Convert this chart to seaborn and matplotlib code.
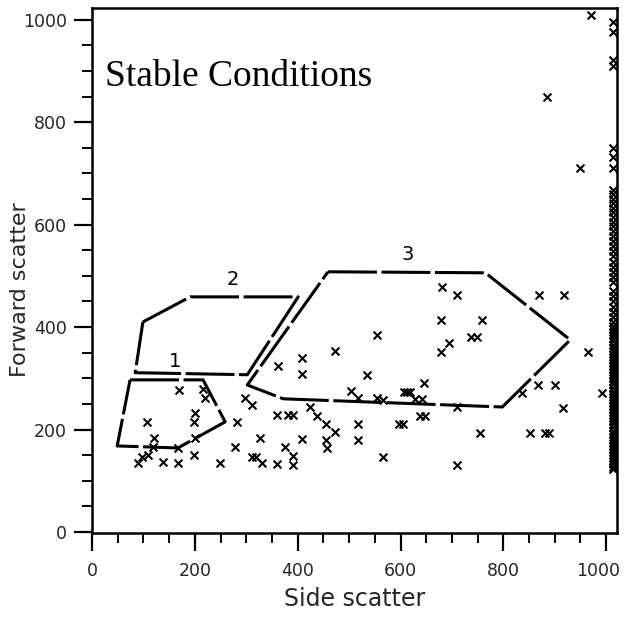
import numpy as np
import pandas as pd
import matplotlib
matplotlib.use("Agg")
import matplotlib.pyplot as plt
import matplotlib.transforms as mtransforms
import seaborn as sns

# --- data (side scatter, forward scatter) ---
side_scatter = [169, 216, 220, 200, 198, 107, 121, 119, 109, 97, 89, 138, 167, 167,
                200, 198, 249, 282, 278, 298, 311, 327, 311, 319, 331,
                554, 473, 409, 362, 409, 535, 504, 613, 518, 554, 566, 360, 381, 391,
                424, 438, 455, 473, 518, 597, 605, 409, 455, 457, 518, 360, 375, 391,
                391, 566,
                681, 710, 870, 918, 679, 759, 737, 749, 695, 679, 965, 646, 607, 619,
                628, 642, 710, 638, 648, 755, 837, 868, 901, 916, 852, 881, 889, 710,
                885, 949, 992, 971]
forward_scatter = [277, 279, 262, 232, 215, 215, 184, 166, 150, 146, 135, 137, 135, 164,
                   184, 150, 135, 215, 166, 262, 248, 184, 146, 146, 135,
                   385, 354, 340, 324, 309, 307, 275, 273, 262, 262, 258, 229, 229, 229,
                   244, 227, 211, 195, 211, 211, 211, 182, 180, 164, 180, 133, 166, 148,
                   131, 146,
                   479, 463, 463, 463, 414, 414, 381, 381, 369, 352, 352, 291, 273, 273,
                   260, 260, 244, 227, 227, 193, 271, 287, 287, 242, 193, 193, 193, 131,
                   850, 711, 271, 1010]

# events piled up at the top channel of side scatter
edge_side = 1014
edge_forward = [996, 977, 922, 910, 750, 732, 711,
                668, 660, 651, 642, 633, 624, 615, 606, 597, 588, 578, 568, 558, 548,
                538, 528, 518, 508, 498, 488, 470, 460, 450, 440, 430, 420, 410, 402,
                396, 390, 384, 378, 372, 366, 360, 354, 348, 342, 336, 330, 324, 318,
                312, 306, 300, 294, 288, 282, 276, 270, 264, 258, 252, 246, 240, 234,
                228, 222, 216, 210, 204, 198, 192, 186, 180, 174, 168, 162, 156, 150,
                144, 138, 132, 126, 122]

# gate outlines
gate1_x = [74, 216, 259, 167, 49, 74]
gate1_y = [297, 297, 215, 164, 168, 297]
gate2_x = [99, 191, 401, 302, 84, 99]
gate2_y = [410, 459, 459, 307, 311, 410]
gate3_x = [459, 765, 930, 798, 372, 302, 459]
gate3_y = [508, 506, 375, 244, 260, 287, 508]
gate_labels = ["1", "2", "3"]
gate_label_x = [161, 274, 613]
gate_label_y = [332, 492, 541]

df = pd.DataFrame({"side": side_scatter + [edge_side] * len(edge_forward),
                   "forward": forward_scatter + edge_forward})

sns.set_style("ticks")
plt.rcParams['font.family'] = ['DejaVu Sans']

fig = plt.figure(figsize=(6.25, 6.17), dpi=100)
ax = fig.add_axes([92 / 625, 1 - 533 / 617, (617 - 92) / 625, (533 - 8) / 617])

sns.scatterplot(data=df, x="side", y="forward", marker="x", s=32, color="black",
                linewidth=1.5, ax=ax, legend=False)

for gx, gy in [(gate1_x, gate1_y), (gate2_x, gate2_y), (gate3_x, gate3_y)]:
    ax.plot(gx, gy, color="black", lw=2.2, dashes=(16, 1.5), solid_capstyle="butt")

for lab, lx, ly in zip(gate_labels, gate_label_x, gate_label_y):
    ax.text(lx, ly, lab, fontsize=14, ha="center", va="center", color="black")

ax.text(25, 871, "Stable Conditions", fontsize=27, family="Liberation Serif",
        ha="left", va="baseline", color="black")

ax.set_xlim(0, 1021)
ax.set_ylim(-2, 1023)
ax.set_xticks([0, 200, 400, 600, 800, 1000])
ax.set_yticks([0, 200, 400, 600, 800, 1000])
ax.set_xticks(np.arange(0, 1001, 50), minor=True)
ax.set_yticks(np.arange(0, 1001, 50), minor=True)
ax.tick_params(which="major", length=13, width=1.6, labelsize=12.5, pad=5, color="black")
ax.tick_params(axis="x", which="major", pad=8)
ax.tick_params(which="minor", length=7, width=1.4, color="black")
for sp in ax.spines.values():
    sp.set_linewidth(1.8)
    sp.set_color("black")

# nudge the last x tick label so it stays inside the figure
last = ax.get_xticklabels()[-1]
last.set_transform(last.get_transform() +
                   mtransforms.ScaledTranslation(-6 / 72, 0, fig.dpi_scale_trans))

ax.set_xlabel("Side scatter", fontsize=17)
ax.set_ylabel("Forward scatter", fontsize=16)
ax.xaxis.set_label_coords(0.5, -0.103)
ax.yaxis.set_label_coords(-0.118, 0.463)

fig.savefig("out.png", dpi=100)
